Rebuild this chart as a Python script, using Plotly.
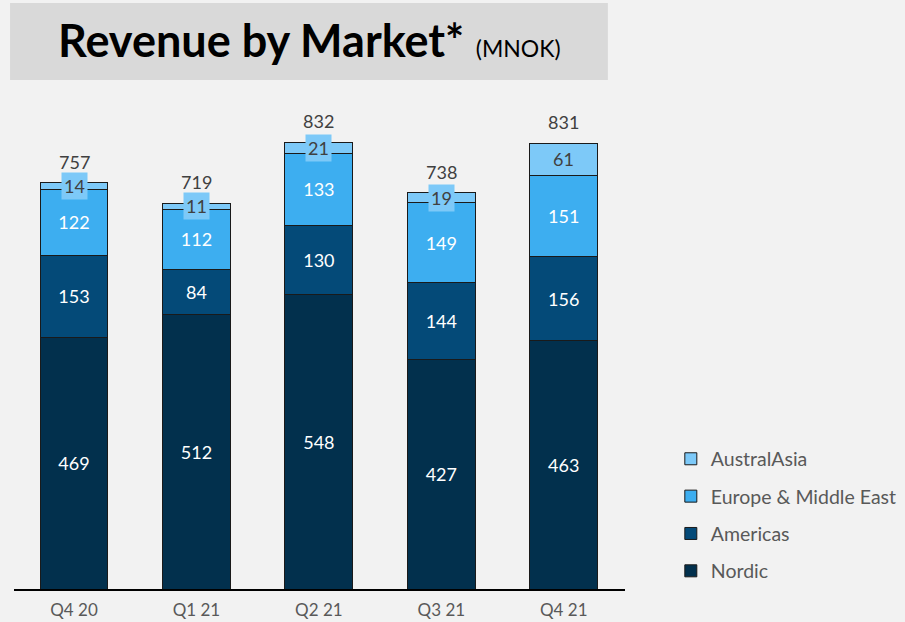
import plotly.graph_objects as go

quarters = ["Q4 20", "Q1 21", "Q2 21", "Q3 21", "Q4 21"]
nordic = [469, 512, 548, 427, 463]
americas = [153, 84, 130, 144, 156]
europe_me = [122, 112, 133, 149, 151]
australasia = [14, 11, 21, 19, 61]
totals = [757, 719, 832, 738, 831]

series = [
    ("Nordic", nordic, "#02304D", "white", 4),
    ("Americas", americas, "#044A78", "white", 3),
    ("Europe & Middle East", europe_me, "#3DAEF0", "white", 2),
    ("AustralAsia", australasia, "#7DC9F8", "#404040", 1),
]

FONT = "Lato"
fig = go.Figure()
for name, vals, color, tcol, rank in series:
    show_text = name != "AustralAsia"
    fig.add_trace(go.Bar(
        x=quarters, y=vals, name=name,
        marker=dict(color=color, line=dict(color="#1a1a1a", width=1)),
        text=[str(v) for v in vals] if show_text else None,
        textposition="inside" if show_text else "none",
        insidetextanchor="middle",
        textfont=dict(color=tcol, size=18, family=FONT),
        legendgroup=name, legendrank=rank,
        hoverinfo="skip",
    ))

# AustralAsia labels in boxes
for q, n, a, e, au in zip(quarters, nordic, americas, europe_me, australasia):
    fig.add_annotation(x=q, y=n + a + e + au / 2, text=str(au), showarrow=False,
                       font=dict(color="#404040", size=18, family=FONT),
                       bgcolor="#7DC9F8", borderpad=2, xref="x", yref="y")

# totals
for q, t in zip(quarters, totals):
    fig.add_annotation(x=q, y=t, text=str(t), showarrow=False, yanchor="bottom",
                       yshift=8, font=dict(color="#404040", size=18, family=FONT))

# title box
fig.add_shape(type="rect", xref="paper", yref="paper", x0=-0.0065, x1=0.972,
              y0=1.054, y1=1.213, fillcolor="#D9D9D9", line=dict(width=0), layer="below")
fig.add_annotation(xref="paper", yref="paper", x=0.484, y=1.136, showarrow=False,
                   text="<b>Revenue by Market*</b> <span style='font-size:23px'>(MNOK)</span>",
                   font=dict(size=45, color="black", family=FONT), yanchor="middle")

fig.update_layout(
    barmode="stack",
    bargap=0.445,
    width=905, height=622,
    margin=dict(l=14, r=280, t=106, b=33, autoexpand=False),
    paper_bgcolor="#F2F2F2", plot_bgcolor="#F2F2F2",
    font=dict(family=FONT, color="#595959"),
    showlegend=True,
    legend=dict(traceorder="grouped", x=1.075, y=0.153, xanchor="left", yanchor="middle",
                font=dict(size=19.5, color="#595959", family=FONT), tracegroupgap=9,
                bgcolor="rgba(0,0,0,0)"),
    xaxis=dict(showline=True, linecolor="black", linewidth=2, ticks="",
               tickfont=dict(size=17, color="#595959", family=FONT), range=[-0.49, 4.5],
               showgrid=False, zeroline=False, ticklabelstandoff=5, automargin=False),
    yaxis=dict(visible=False, range=[0, 900], showgrid=False, zeroline=False),
)

fig.write_html("out.html", config={"displayModeBar": False},
               post_script="document.body.style.margin='0';document.body.style.background='#F2F2F2';")
